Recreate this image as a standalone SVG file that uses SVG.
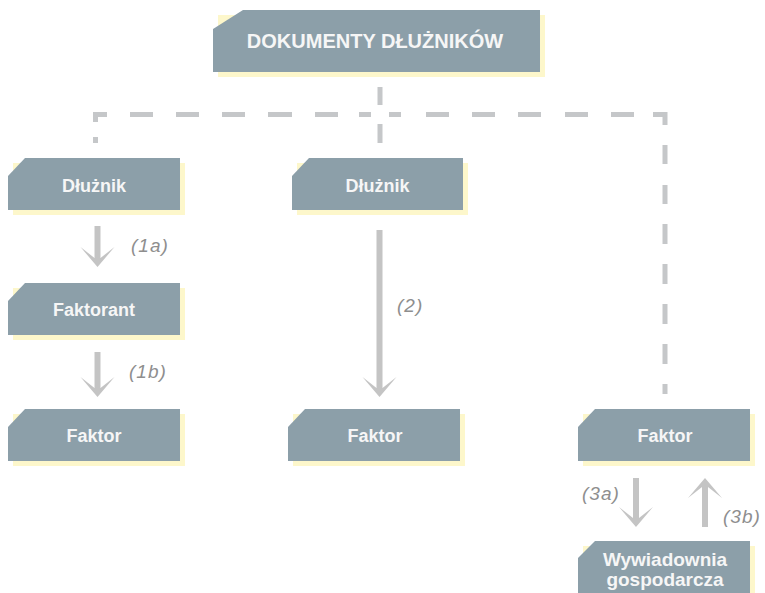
<svg xmlns="http://www.w3.org/2000/svg" width="765" height="593" viewBox="0 0 765 593">
<style>
.box{fill:#8c9fa9}
.shadow{fill:#fdf7cb}
.lbl{font-family:"Liberation Sans",Arial,sans-serif;font-weight:bold;font-size:18px;fill:#f6f6f6;text-anchor:middle}
.title{font-size:20px}
.big{font-size:19px}
.dash{fill:none;stroke:#c5c7c9;stroke-width:5;stroke-linecap:butt}
.arr{fill:none;stroke:#c4c4c4;stroke-width:6;marker-end:url(#head)}
.num{font-family:"Liberation Sans",Arial,sans-serif;font-style:italic;font-size:19px;fill:#8e8e8e;letter-spacing:1px}
</style>
<defs>
<marker id="head" markerUnits="userSpaceOnUse" markerWidth="22" markerHeight="36" viewBox="0 -18 22 36" refX="11" refY="0" orient="auto">
<path d="M0,-17 L20,0 L0,17 L11,3 L11,-3 Z" fill="#c4c4c4"/>
</marker>
</defs>
<g id="connectors">
<path class="dash" d="M95.5,122 V114.5 H107 M130,114.5 H153 M176,114.5 H199 M222,114.5 H245 M268,114.5 H292 M315,114.5 H338 M359,114.5 H371 M389,114.5 H401 M426,114.5 H449 M472,114.5 H495 M518,114.5 H541 M565,114.5 H588 M611,114.5 H634 M653,114.5 H665 V125 M95.5,137 V143 M380,87 V105 M380,124 V143 M665,145 V164 M665,185 V204 M665,224 V244 M665,264 V284 M665,304 V324 M665,344 V364 M665,384 V394"/>
<line class="arr" x1="97.5" y1="226" x2="97.5" y2="258"/>
<line class="arr" x1="97.5" y1="352" x2="97.5" y2="388"/>
<line class="arr" x1="379.5" y1="230" x2="379.5" y2="388"/>
<line class="arr" x1="636" y1="478" x2="636" y2="518"/>
<line class="arr" x1="705" y1="527" x2="705" y2="487"/>
<text class="num" x="131" y="252">(1a)</text>
<text class="num" x="129" y="378">(1b)</text>
<text class="num" x="397" y="312">(2)</text>
<text class="num" x="582" y="500">(3a)</text>
<text class="num" x="723" y="523">(3b)</text>
</g>
<g id="n-dokumenty">
<rect class="shadow" x="218" y="15" width="327" height="62"/>
<path class="box" d="M243,10 H540 V72 H213 V29 Z"/>
<text class="lbl title" x="375" y="48">DOKUMENTY DŁUŻNIKÓW</text>
</g>
<g id="n-dluznik1">
<rect class="shadow" x="13" y="163" width="172" height="52"/>
<path class="box" d="M25,158 H180 V210 H8 V176 Z"/>
<text class="lbl" x="94" y="192">Dłużnik</text>
</g>
<g id="n-faktorant">
<rect class="shadow" x="13" y="288" width="172" height="52"/>
<path class="box" d="M25,283 H180 V335 H8 V301 Z"/>
<text class="lbl" x="94" y="316">Faktorant</text>
</g>
<g id="n-faktor1">
<rect class="shadow" x="13" y="414" width="172" height="52"/>
<path class="box" d="M25,409 H180 V461 H8 V427 Z"/>
<text class="lbl" x="94" y="442">Faktor</text>
</g>
<g id="n-dluznik2">
<rect class="shadow" x="297" y="163" width="171" height="52"/>
<path class="box" d="M309,158 H463 V210 H292 V176 Z"/>
<text class="lbl" x="377.5" y="192">Dłużnik</text>
</g>
<g id="n-faktor2">
<rect class="shadow" x="293" y="414" width="172" height="52"/>
<path class="box" d="M305,409 H460 V461 H288 V427 Z"/>
<text class="lbl" x="375" y="442">Faktor</text>
</g>
<g id="n-faktor3">
<rect class="shadow" x="583" y="414" width="172" height="52"/>
<path class="box" d="M595,409 H750 V461 H578 V427 Z"/>
<text class="lbl" x="665" y="442">Faktor</text>
</g>
<g id="n-wywiadownia">
<rect class="shadow" x="583" y="546" width="172" height="52"/>
<path class="box" d="M595,541 H750 V593 H578 V558 Z"/>
<text class="lbl big" x="665" y="566">Wywiadownia</text>
<text class="lbl big" x="665" y="586">gospodarcza</text>
</g>
</svg>
